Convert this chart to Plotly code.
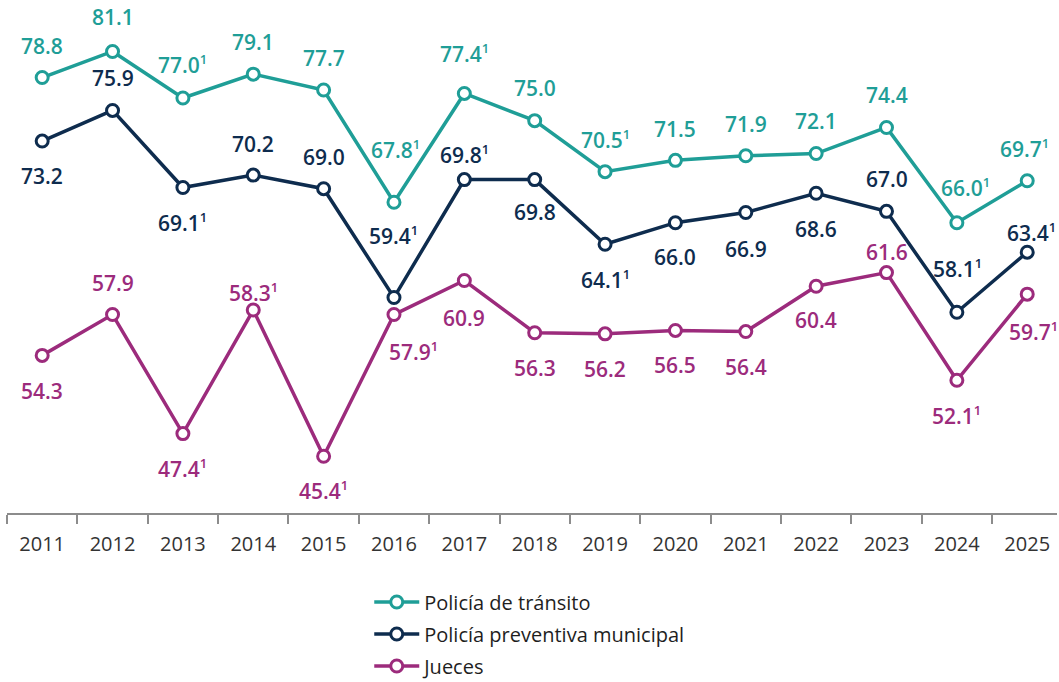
import plotly.graph_objects as go

# Años del periodo
years = [2011, 2012, 2013, 2014, 2015, 2016, 2017, 2018,
         2019, 2020, 2021, 2022, 2023, 2024, 2025]

# Porcentajes por autoridad
transito = [78.8, 81.1, 77.0, 79.1, 77.7, 67.8, 77.4, 75.0, 70.5, 71.5, 71.9, 72.1, 74.4, 66.0, 69.7]
preventiva = [73.2, 75.9, 69.1, 70.2, 69.0, 59.4, 69.8, 69.8, 64.1, 66.0, 66.9, 68.6, 67.0, 58.1, 63.4]
jueces = [54.3, 57.9, 47.4, 58.3, 45.4, 57.9, 60.9, 56.3, 56.2, 56.5, 56.4, 60.4, 61.6, 52.1, 59.7]

# Años con nota al pie (1) en cada serie
nota_transito = [0, 0, 1, 0, 0, 1, 1, 0, 1, 0, 0, 0, 0, 1, 1]
nota_preventiva = [0, 0, 1, 0, 0, 1, 1, 0, 1, 0, 0, 0, 0, 1, 1]
nota_jueces = [0, 0, 1, 1, 1, 1, 0, 0, 0, 0, 0, 0, 0, 1, 1]

# Desplazamiento vertical de cada etiqueta (px, positivo = arriba)
dy_transito = [32, 34, 33, 32, 32, 53, 40, 33, 32, 31, 32, 33, 32, 35, 32]
dy_preventiva = [-35, 32, -35, 31, 32, 62, 25, -32, -35, -34, -36, -36, 32, 44, 20]
dy_jueces = [-36, 32, -35, 18, -34, -37, -37, -35, -35, -35, -35, -34, 21, -35, -37]

# Desplazamiento horizontal de cada etiqueta (px)
dx_transito = [0, 0, 0, 0, 0, 2, 0, 0, 0, 0, 0, 0, 0, 9, -3]
dx_preventiva = [0, 0, 0, 0, 0, 0, 0, 0, 0, 0, 0, 0, 0, 1, 4]
dx_jueces = [0, 0, 0, 0, 0, 20, 0, 0, 0, 0, 0, 0, 0, 0, 6]

series = [
    ("Policía de tránsito", transito, nota_transito, dy_transito, dx_transito, "#1f9e97"),
    ("Policía preventiva municipal", preventiva, nota_preventiva, dy_preventiva, dx_preventiva, "#0e2c4e"),
    ("Jueces", jueces, nota_jueces, dy_jueces, dx_jueces, "#9c2b7c"),
]

fig = go.Figure()
for name, vals, notas, dys, dxs, color in series:
    fig.add_trace(go.Scatter(
        x=years, y=vals, name=name, mode="lines+markers",
        legendgroup=name,
        line=dict(color=color, width=3.5),
        marker=dict(symbol="circle", size=12, color="white",
                    line=dict(color=color, width=3)),
        cliponaxis=False,
    ))
    for yr, v, n, dy, dx in zip(years, vals, notas, dys, dxs):
        sup = "<sup><span style='font-size:13px'>1</span></sup>" if n else ""
        fig.add_annotation(
            x=yr, y=v, xref="x", yref="y", text=f"{v:.1f}" + sup, showarrow=False,
            yshift=dy, xshift=dx,
            font=dict(family="Open Sans", size=21, color=color, weight=600),
        )

# Separadores entre años en el eje horizontal
bordes = [y - 0.5 for y in years] + [years[-1] + 0.5]

fig.update_layout(
    width=1059, height=682,
    margin=dict(l=7, r=2, t=6, b=169, autoexpand=False),
    paper_bgcolor="white", plot_bgcolor="white",
    showlegend=True,
    legend=dict(
        x=0.345, y=-0.137, xanchor="left", yanchor="top",
        orientation="v", font=dict(family="Open Sans", size=20, color="#1e1e1e"),
        itemwidth=45, tracegroupgap=3,
    ),
    xaxis=dict(
        range=[years[0] - 0.5, years[0] - 0.5 + 1050 / 70.36],
        tickmode="array", tickvals=years, ticktext=[str(y) for y in years],
        showline=True, linecolor="#8c8c8c", linewidth=2,
        ticks="", showgrid=False, zeroline=False,
        minor=dict(tickmode="array", tickvals=bordes, ticks="outside", ticklen=9,
                   tickcolor="#8c8c8c", tickwidth=2, showgrid=False),
        tickfont=dict(family="Open Sans", size=20, color="#333333"),
        ticklabelstandoff=12,
    ),
    yaxis=dict(range=[40.40, 85.11], visible=False, showgrid=False, zeroline=False),
)

fig.write_html("out.html")
